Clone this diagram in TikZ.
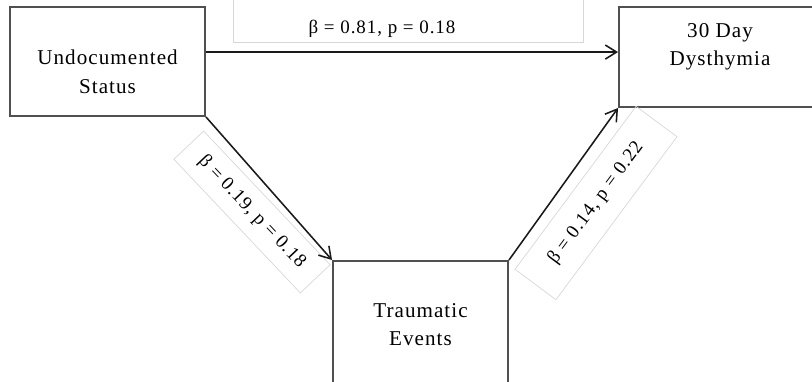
\documentclass[tikz,border=0pt]{standalone}
\usepackage{fontspec}
\setmainfont{Liberation Serif}[LetterSpace=5]
\usepackage{tikz}
\usetikzlibrary{arrows.meta,positioning}
\definecolor{grisBorde}{RGB}{80,80,80}
\definecolor{grisFlecha}{RGB}{25,25,25}
\definecolor{grisClaro}{RGB}{215,215,215}
\tikzstyle{block}=[rectangle, draw=grisBorde, line width=1.4pt,
                   inner sep=0pt]
\tikzstyle{blocktext}=[align=center, inner sep=0pt,
                   font=\fontsize{15}{20}\selectfont]
\tikzstyle{link}=[draw=grisFlecha, line width=1.1pt,
                  -{Straight Barb[length=8pt,width=10pt]}]
\tikzstyle{coef}=[draw=grisClaro, line width=0.5pt, inner sep=0pt,
                  font=\fontsize{13.5}{16}\selectfont]

\begin{document}
\begin{tikzpicture}
    \useasboundingbox (0,0) rectangle (20.3,9.525);
    \clip (0,0) rectangle (20.3,9.525);

    % boxes
    \node (status) [block, minimum width=4.875cm, minimum height=2.725cm] at (2.6875,7.9875) {};
    \node (dysth) [block, minimum width=5.05cm, minimum height=2.5cm] at (18.0,8.1) {};
    \node (trauma) [block, minimum width=4.375cm, minimum height=3.6cm] at (10.5125,1.2) {};

    \node [blocktext, below=1.1cm of status.north] {Undocumented\\Status};
    \node [blocktext, below=0.425cm of dysth.north] {30 Day\\Dysthymia};
    \node [blocktext, below=1.075cm of trauma.north] {Traumatic\\Events};

    % coefficients
    \node (c1) [coef, anchor=south west, minimum width=8.75cm, minimum height=1.4cm] at (5.825,8.45) {};
    \node [coef, draw=none] at (9.55,8.8) {β = 0.81, p = 0.18};
    \node (c2) [coef, rotate=-46.6, minimum width=4.6cm, minimum height=1.025cm] at (6.3,4.225) {β = 0.19, p = 0.18};
    \node (c3) [coef, rotate=53.4, minimum width=5.075cm, minimum height=1.275cm] at (14.9,4.45) {β = 0.14, p = 0.22};

    % paths
    \draw [link] ([yshift=6.7pt]status.east) -- ([yshift=6.7pt]status.east -| dysth.west);
    \draw [link] (status.south east) -- (trauma.north west);
    \draw [link] (trauma.north east) -- (dysth.south west);
\end{tikzpicture}
\end{document}
